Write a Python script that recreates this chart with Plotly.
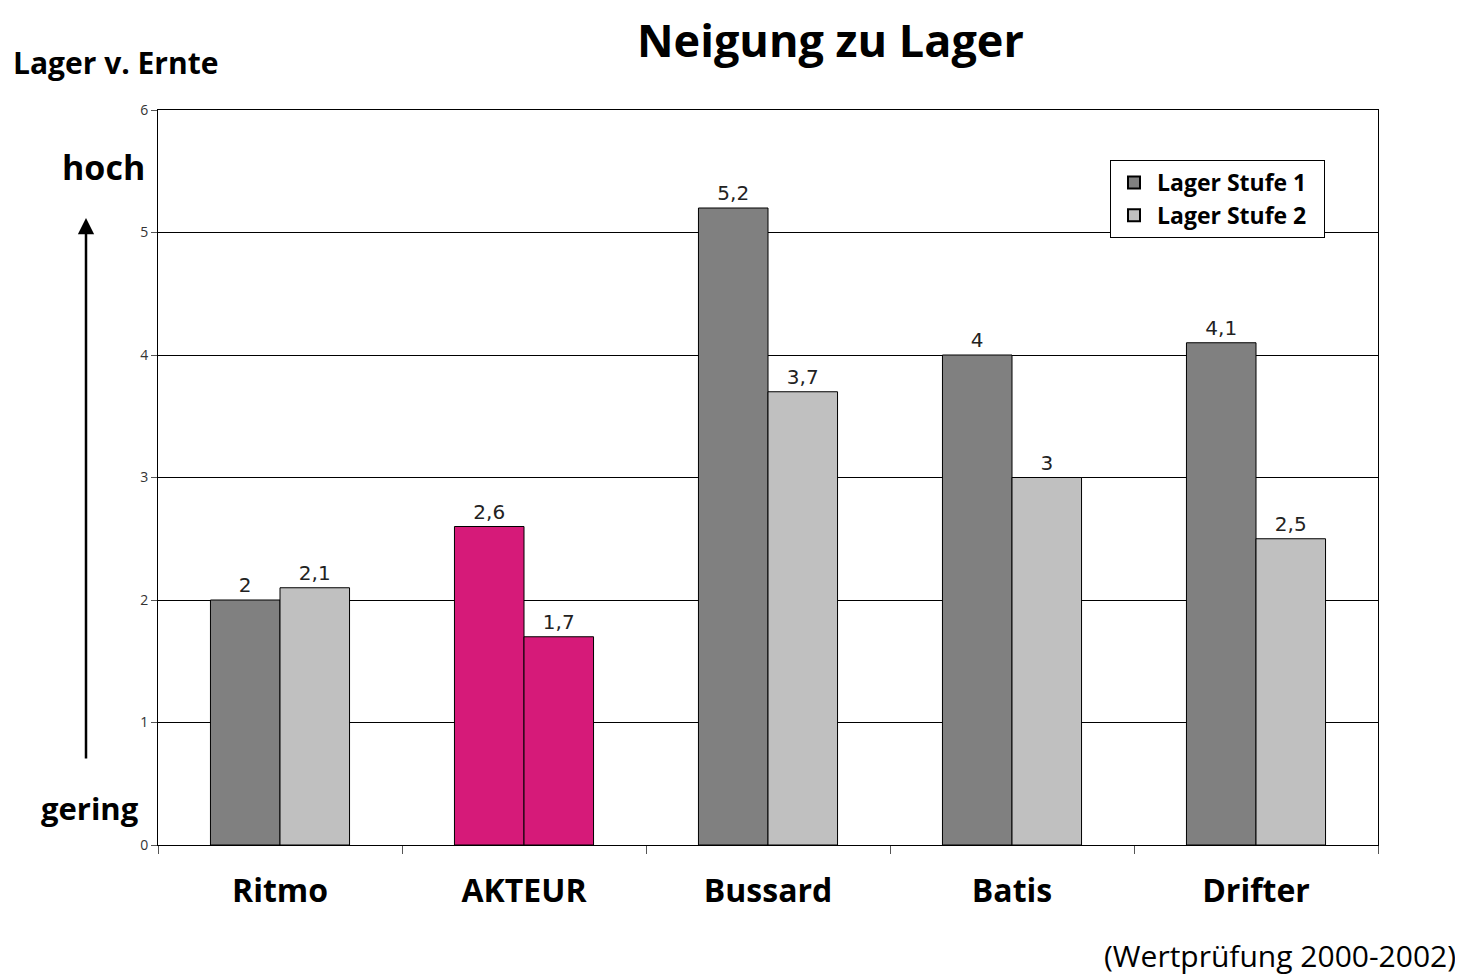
import plotly.graph_objects as go

categories = ["Ritmo", "AKTEUR", "Bussard", "Batis", "Drifter"]
stufe1 = [2.0, 2.6, 5.2, 4.0, 4.1]
stufe2 = [2.1, 1.7, 3.7, 3.0, 2.5]
y_ticks = [0, 1, 2, 3, 4, 5, 6]

dark = "#808080"
light = "#C0C0C0"
magenta = "#D61A79"
highlight = "AKTEUR"

c1 = [magenta if c == highlight else dark for c in categories]
c2 = [magenta if c == highlight else light for c in categories]

FONT = "Open Sans"
LBLFONT = "DejaVu Sans"

# page offset (browser body margin)
OFF = 8
# plot area in page pixels
PL, PR, PT, PB = 158, 1378, 110, 845
W, H = 1463, 975
PW, PH = PR - PL, PB - PT


def fmt(v):
    return f"{v:g}".replace(".", ",")


def px(x):
    return (x - PL) / PW


def py(y):
    return (PB - y) / PH


fig = go.Figure()
fig.add_trace(go.Bar(
    x=categories, y=stufe1, name="<b>Lager Stufe 1</b>&nbsp;&nbsp;",
    marker=dict(color=c1, line=dict(color="black", width=1)),
    text=[fmt(v) for v in stufe1], textposition="outside",
    textfont=dict(size=20, color="#222", family=LBLFONT),
    cliponaxis=False,
))
fig.add_trace(go.Bar(
    x=categories, y=stufe2, name="<b>Lager Stufe 2</b>&nbsp;&nbsp;",
    marker=dict(color=c2, line=dict(color="black", width=1)),
    text=[fmt(v) for v in stufe2], textposition="outside",
    textfont=dict(size=20, color="#222", family=LBLFONT),
    cliponaxis=False,
))

fig.update_layout(
    width=W, height=H,
    paper_bgcolor="white", plot_bgcolor="white",
    margin=dict(l=PL - OFF, r=W - PR + OFF, t=PT - OFF, b=H - PB + OFF),
    barmode="group", bargap=0.43, bargroupgap=0,
    separators=",.",
    font=dict(family=FONT, color="black"),
    legend=dict(x=px(1110), y=py(160), xanchor="left", yanchor="top",
                bgcolor="white", bordercolor="black", borderwidth=1,
                font=dict(size=23, family=FONT, color="black"),
                itemsizing="constant", tracegroupgap=0, itemwidth=36),
    showlegend=True,
)
fig.update_yaxes(
    range=[0, 6], tickvals=y_ticks, ticks="outside", ticklen=6,
    tickcolor="#555", tickfont=dict(size=14, color="#333"),
    showgrid=True, gridcolor="black", gridwidth=1,
    showline=True, linecolor="black", linewidth=1, mirror=True,
    zeroline=False,
)
fig.update_xaxes(
    tickfont=dict(size=32, color="black", family=FONT),
    ticks="outside", tickson="boundaries", ticklen=8, tickcolor="#555",
    ticklabelstandoff=18,
    showline=True, linecolor="black", linewidth=1, mirror=True,
    tickprefix="<b>", ticksuffix="</b>",
)

# title as annotation
fig.add_annotation(text="<b>Neigung zu Lager</b>", xref="paper", yref="paper",
                   x=px(830), y=py(40), xanchor="center", yanchor="middle",
                   showarrow=False, font=dict(size=45, family=FONT, color="black"))

annos = [
    dict(text="<b>Lager v. Ernte</b>", x=11, y=62, size=30),
    dict(text="<b>hoch</b>", x=60, y=167, size=34),
    dict(text="<b>gering</b>", x=39, y=808, size=31),
]
for a in annos:
    fig.add_annotation(text=a["text"], xref="paper", yref="paper",
                       x=px(a["x"]), y=py(a["y"]),
                       xanchor="left", yanchor="middle", showarrow=False,
                       font=dict(size=a["size"], family=FONT, color="black"))

fig.add_annotation(text="(Wertprüfung 2000-2002)", xref="paper", yref="paper",
                   x=px(1458), y=py(955),
                   xanchor="right", yanchor="middle", showarrow=False,
                   font=dict(size=30, family=FONT, color="black"))

# arrow
fig.add_annotation(xref="paper", yref="paper", axref="pixel", ayref="pixel",
                   x=px(86), y=py(218),
                   ax=0, ay=542,
                   showarrow=True, arrowhead=2, arrowsize=1.3, arrowwidth=2.5,
                   arrowcolor="black", text="")

fig.write_html("out.html")
